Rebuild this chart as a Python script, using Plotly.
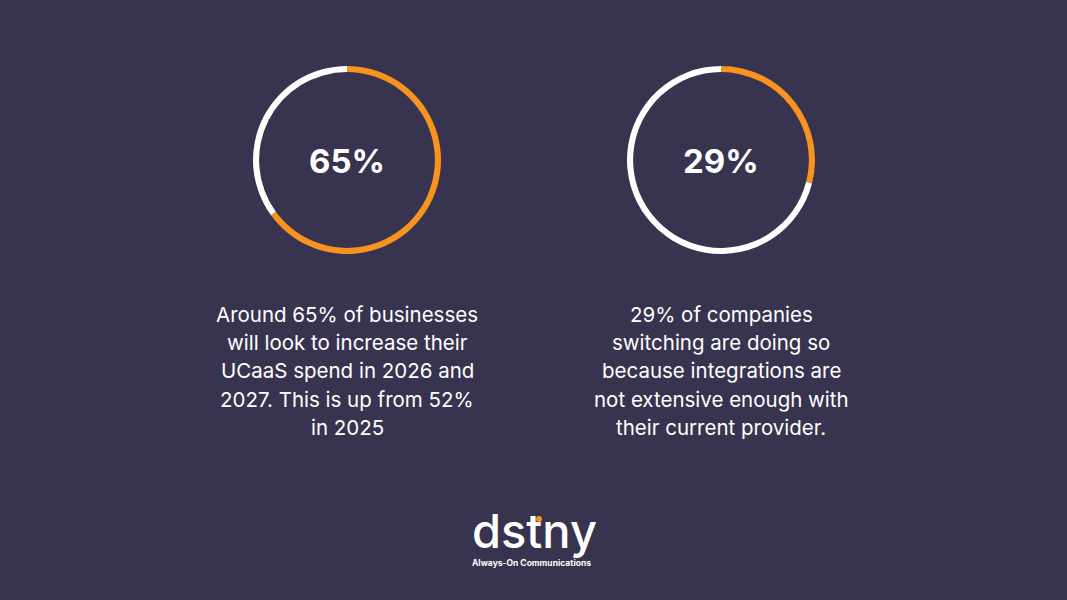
import plotly.graph_objects as go

W, H = 1067, 600
BG = "#38334E"
ORANGE = "#F7931E"
WHITE = "#FFFFFF"

stats = [65, 29]
stat_labels = ["65%", "29%"]
left_lines = ["Around 65% of businesses", "will look to increase their",
              "UCaaS spend in 2026 and", "2027. This is up from 52%", "in 2025"]
right_lines = ["29% of companies", "switching are doing so",
               "because integrations are", "not extensive enough with",
               "their current provider."]
captions = [left_lines, right_lines]

centers_x = [347, 721]
center_y = 160
radius = 94
line_y = [313, 341, 369, 398, 426]

fig = go.Figure()
for i, v in enumerate(stats):
    cx = centers_x[i]
    fig.add_trace(go.Pie(
        values=[v, 100 - v],
        marker=dict(colors=[ORANGE, WHITE], line=dict(width=0)),
        hole=0.935, sort=False, direction="clockwise", rotation=0,
        textinfo="none", hoverinfo="skip",
        domain=dict(x=[(cx - radius) / W, (cx + radius) / W],
                    y=[1 - (center_y + radius) / H, 1 - (center_y - radius) / H]),
    ))
    fig.add_annotation(x=cx / W, y=1 - (center_y + 1) / H, xref="paper", yref="paper",
                       text=f"<b>{stat_labels[i]}</b>", showarrow=False,
                       font=dict(family="Inter", size=33, color=WHITE),
                       xanchor="center", yanchor="middle")
    for j, line in enumerate(captions[i]):
        fig.add_annotation(x=cx / W, y=1 - (line_y[j] + 1.5) / H, xref="paper", yref="paper",
                           text=line, showarrow=False,
                           font=dict(family="Inter", size=20.5, color=WHITE),
                           xanchor="center", yanchor="middle")

# logo
fig.add_annotation(x=534 / W, y=1 - 530 / H, xref="paper", yref="paper",
                   text="dstny", showarrow=False,
                   font=dict(family="Inter", size=47, color=WHITE, weight=500),
                   xanchor="center", yanchor="middle")
fig.add_shape(type="circle", xref="paper", yref="paper",
              x0=536 / W, x1=542 / W, y0=1 - 522 / H, y1=1 - 516 / H,
              fillcolor=ORANGE, line=dict(width=0))
fig.add_annotation(x=531 / W, y=1 - 563 / H, xref="paper", yref="paper",
                   text="<b>Always-On Communications</b>", showarrow=False,
                   font=dict(family="Inter", size=8.5, color=WHITE),
                   xanchor="center", yanchor="middle")

fig.update_layout(width=W, height=H, margin=dict(l=0, r=0, t=0, b=0),
                  paper_bgcolor=BG, plot_bgcolor=BG, showlegend=False)
fig.write_html("out.html")
